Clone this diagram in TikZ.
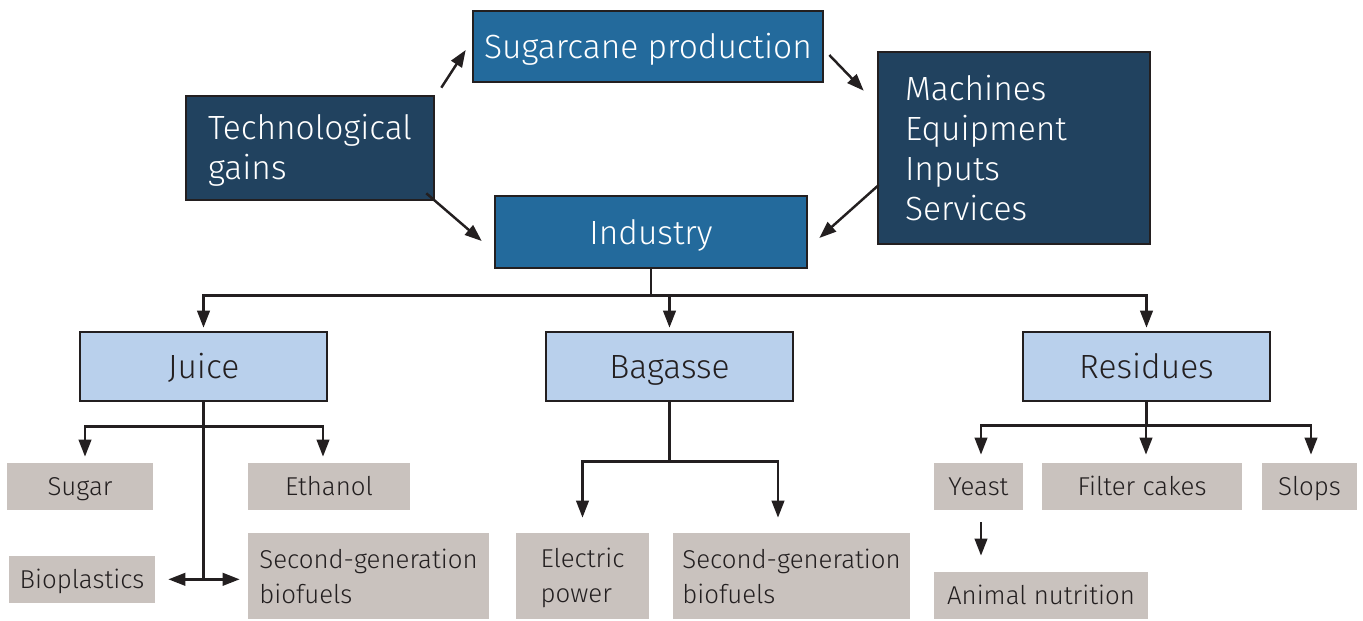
\documentclass[tikz,border=0pt]{standalone}
\usepackage{fontspec}
\setmainfont{Fira Sans Light}
\usetikzlibrary{arrows.meta,calc}
\definecolor{midblue}{HTML}{236A9C}
\definecolor{navy}{HTML}{21425F}
\definecolor{lightblue}{HTML}{B9D0EC}
\definecolor{greybox}{HTML}{C9C2BE}
\definecolor{ink}{HTML}{231F20}
\begin{document}
\begin{tikzpicture}[x=0.02cm,y=-0.02cm,
  box/.style={draw=ink,line width=1.5pt,inner sep=0pt,font=\fontsize{19.1}{22.8}\selectfont},
  bigone/.style={text height=14pt,text depth=0pt},
  smallone/.style={text height=10.6pt,text depth=0pt},
  bluebox/.style={box,bigone,fill=midblue,text=white},
  navybox/.style={box,fill=navy,text=white,align=left},
  lightbox/.style={box,bigone,fill=lightblue,text=ink},
  greyb/.style={fill=greybox,inner sep=0pt,text=ink,align=left,font=\fontsize{14.7}{20}\selectfont},
  greyone/.style={greyb,smallone},
  ln/.style={draw=ink,line width=1.4pt},
  arr/.style={ln,-{Triangle[length=0.34cm,width=0.25cm]}}]
\useasboundingbox (0,0) rectangle (1363,620);
% top level
\node[bluebox,minimum width=7cm,minimum height=1.42cm] (sugarcane) at (648,46.5) {Sugarcane production};
\node[navybox,minimum width=4.96cm,minimum height=2.08cm] (tech) at (310,148) {\rule{0pt}{16.5pt}Technological\\gains};
\node[navybox,text width=4.36cm,inner xsep=0.54cm,minimum height=3.84cm] (machines) at (1014,148) {Machines\\Equipment\\Inputs\\Services};
\node[bluebox,minimum width=6.24cm,minimum height=1.44cm] (industry) at (651,232) {Industry};
% second level
\node[lightbox,minimum width=4.94cm,minimum height=1.38cm] (juice) at (203.5,366.5) {Juice};
\node[lightbox,minimum width=4.94cm,minimum height=1.38cm] (bagasse) at (669.5,366.5) {Bagasse};
\node[lightbox,minimum width=4.94cm,minimum height=1.38cm] (residues) at (1146.5,366.5) {Residues};
% products
\node[greyone,minimum width=2.92cm,minimum height=0.94cm] (sugar) at (80,486.5) {Sugar};
\node[greyone,minimum width=3.24cm,minimum height=0.94cm] (ethanol) at (329,486.5) {Ethanol};
\node[greyone,minimum width=2.92cm,minimum height=0.94cm] (bioplastics) at (82,579.5) {Bioplastics};
\node[greyb,minimum width=4.82cm,minimum height=1.72cm] (secgenA) at (368.5,576) {Second-generation\\biofuels};
\node[greyb,minimum width=2.66cm,minimum height=1.72cm] (elec) at (582.5,576) {\rule{0pt}{13pt}Electric\\power};
\node[greyb,minimum width=4.74cm,minimum height=1.72cm] (secgenB) at (791.5,576) {Second-generation\\biofuels};
\node[greyone,minimum width=1.78cm,minimum height=0.94cm] (yeast) at (978.5,486.5) {Yeast};
\node[greyone,minimum width=4.0cm,minimum height=0.94cm] (filter) at (1142,486.5) {Filter cakes};
\node[greyone,minimum width=1.9cm,minimum height=0.94cm] (slops) at (1309.5,486.5) {Slops};
\node[greyone,minimum width=4.28cm,minimum height=0.94cm] (animal) at (1041,595.5) {Animal nutrition};
% diagonal arrows
\draw[arr] ($(tech.north east)+(6,-7)$) -- ($(sugarcane.west)+(-6,3.5)$);
\draw[arr] ($(tech.south east)+(-9,-8)$) -- ($(industry.west)+(-12,9)$);
\draw[arr] ($(sugarcane.east)+(5,8.5)$) -- ($(machines.north west)+(-13,40)$);
\draw[arr] ($(machines.west)+(2,37)$) -- ($(industry.east)+(11,6)$);
% industry tree
\draw[ln] (industry.south) -- ++(0,26) coordinate (ibar);
\draw[arr,shorten >=0.06cm] (ibar) -| (juice.north);
\draw[arr,shorten >=0.06cm] (ibar) -| (bagasse.north);
\draw[arr,shorten >=0.06cm] (ibar) -| (residues.north);
% juice tree
\draw[ln] (juice.south) -- ++(0,24) coordinate (jbar);
\draw[arr,shorten >=0.12cm] (jbar) -| ([xshift=0.1cm]sugar.north);
\draw[arr,shorten >=0.12cm] (jbar) -| ([xshift=-0.12cm]ethanol.north);
\draw[ln] (jbar) -- ++(0,153) coordinate (jfork);
\draw[arr,shorten >=0.26cm] (jfork) -- (bioplastics.east |- jfork);
\draw[arr,shorten >=0.16cm] (jfork) -- (secgenA.west |- jfork);
% bagasse tree
\draw[ln] (bagasse.south) -- ++(0,59) coordinate (bbar);
\draw[arr,shorten >=0.3cm] (bbar) -| (elec.north);
\draw[arr,shorten >=0.3cm] (bbar) -| ([xshift=-0.27cm]secgenB.north);
% residues tree
\draw[ln] (residues.south) -- ++(0,23) coordinate (rbar);
\draw[arr,shorten >=0.16cm] (rbar) -| ([xshift=0.05cm]yeast.north);
\draw[arr,shorten >=0.16cm] (rbar) -| ([xshift=0.08cm]filter.north);
\draw[arr,shorten >=0.16cm] (rbar) -| ([xshift=0.03cm]slops.north);
\draw[arr,shorten <=0.24cm,shorten >=0.32cm] ([xshift=0.05cm]yeast.south) -- ([xshift=0.05cm]yeast.south |- animal.north);
\end{tikzpicture}
\end{document}
